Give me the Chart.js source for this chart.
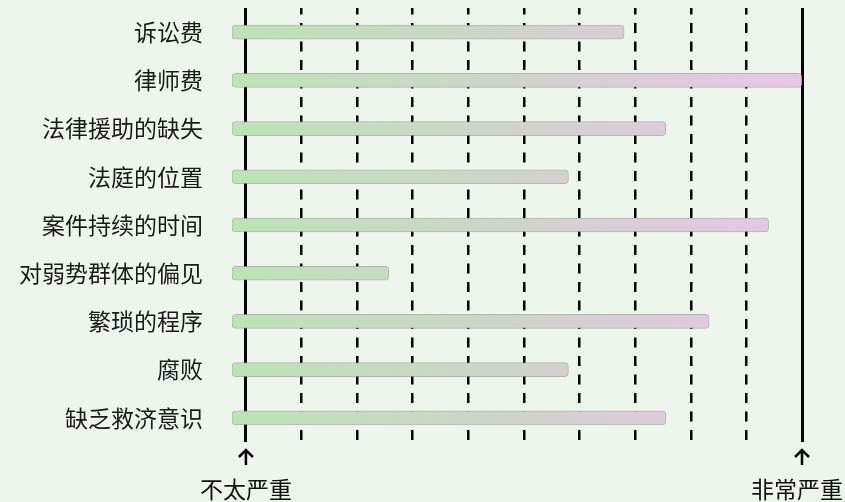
<!DOCTYPE html>
<html>
<head>
<meta charset="utf-8">
<script src="https://cdn.jsdelivr.net/npm/chart.js@4/dist/chart.umd.min.js"></script>
<style>
  html, body { margin: 0; padding: 0; background: #edf5ec; }
  #wrap { width: 845px; height: 502px; }
</style>
</head>
<body>
<div id="wrap"><canvas id="chart"></canvas></div>
<script>
const categories = [
  "诉讼费",
  "律师费",
  "法律援助的缺失",
  "法庭的位置",
  "案件持续的时间",
  "对弱势群体的偏见",
  "繁琐的程序",
  "腐败",
  "缺乏救济意识"
];
const severity = [6.8, 10, 7.55, 5.8, 9.4, 2.57, 8.33, 5.8, 7.55];
const dashedTicks = [1, 2, 3, 4, 5, 6, 7, 8, 9];
const endTicks = [0, 10];
const endLabels = ["不太严重", "非常严重"];

const AXIS_MIN = -0.25;
const AXIS_MAX = 10;
const FONT = '"Noto Sans CJK SC", "Noto Sans", sans-serif';

function barGradient(ctx) {
  const area = ctx.chart.chartArea;
  if (!area) return "#cfd6cc";
  const g = ctx.chart.ctx.createLinearGradient(area.left, 0, area.right, 0);
  g.addColorStop(0, "#bde3b7");
  g.addColorStop(0.5, "#d0d3cd");
  g.addColorStop(1, "#e9c5e7");
  return g;
}

const background = {
  id: "background",
  beforeDraw(chart) {
    const c = chart.ctx;
    c.save();
    c.fillStyle = "#edf5ec";
    c.fillRect(0, 0, chart.width, chart.height);
    c.restore();
  }
};

// arrows and captions under the two solid end lines
const endMarks = {
  id: "endMarks",
  afterDraw(chart) {
    const c = chart.ctx;
    const scale = chart.scales.x2;
    c.save();
    c.strokeStyle = "#000";
    c.fillStyle = "#111";
    c.lineWidth = 2.5;
    c.font = "23px " + FONT;
    c.textBaseline = "middle";
    c.textAlign = "left";
    endTicks.forEach((v, i) => {
      const x = scale.getPixelForValue(v);
      c.beginPath();
      c.moveTo(x, 465);
      c.lineTo(x, 450);
      c.moveTo(x - 7, 457);
      c.lineTo(x, 450);
      c.lineTo(x + 7, 457);
      c.stroke();
      const w = c.measureText(endLabels[i]).width;
      let left = x - w / 2;
      left = Math.min(left, chart.width - 2 - w);
      left = Math.max(left, 2);
      c.fillText(endLabels[i], left, 489);
    });
    c.restore();
  }
};

new Chart(document.getElementById("chart"), {
  type: "bar",
  data: {
    labels: categories,
    datasets: [{
      data: severity,
      base: AXIS_MIN,
      backgroundColor: barGradient,
      borderColor: "rgba(150,160,148,0.7)",
      borderWidth: 1,
      borderSkipped: false,
      borderRadius: 4,
      barThickness: 14
    }]
  },
  options: {
    indexAxis: "y",
    responsive: true,
    maintainAspectRatio: false,
    animation: false,
    layout: { padding: { top: 8, bottom: 60, right: 43, left: 0 } },
    plugins: {
      legend: { display: false },
      tooltip: { enabled: false }
    },
    scales: {
      y: {
        type: "category",
        grid: { display: false, drawTicks: false },
        border: { display: false },
        ticks: {
          color: "#1a1a1a",
          padding: 29,
          font: { family: FONT, size: 23 }
        },
        afterFit(scale) {
          scale.width = 232;
          scale.paddingTop = 0;
          scale.paddingBottom = 0;
        }
      },
      x: {
        type: "linear",
        position: "bottom",
        min: AXIS_MIN,
        max: AXIS_MAX,
        afterBuildTicks(scale) { scale.ticks = dashedTicks.map(v => ({ value: v })); },
        ticks: { display: false },
        grid: { color: "#000", lineWidth: 2.5, drawTicks: false },
        border: { display: false, dash: [10, 8.5], dashOffset: 3.5 },
        afterFit(scale) { scale.height = 0; }
      },
      x2: {
        type: "linear",
        position: "bottom",
        min: AXIS_MIN,
        max: AXIS_MAX,
        afterBuildTicks(scale) { scale.ticks = endTicks.map(v => ({ value: v })); },
        ticks: { display: false },
        grid: { color: "#000", lineWidth: 3, drawTicks: false },
        border: { display: false },
        afterFit(scale) { scale.height = 0; }
      }
    }
  },
  plugins: [background, endMarks]
});
</script>
</body>
</html>
